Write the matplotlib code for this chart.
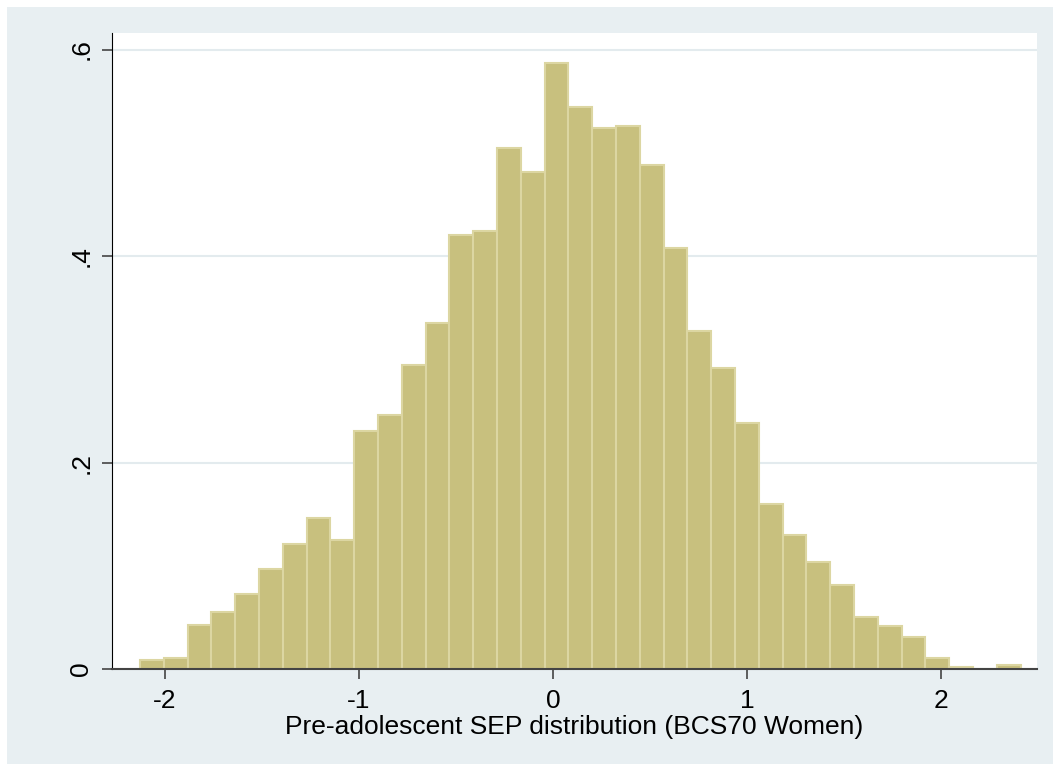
import numpy as np
import matplotlib.pyplot as plt
from matplotlib.patches import Rectangle

# histogram: 37 bins
bin_start = -2.129
bin_width = 0.1227
heights = [0.009, 0.011, 0.043, 0.055, 0.073, 0.097, 0.121, 0.146, 0.125, 0.231,
           0.246, 0.294, 0.335, 0.420, 0.424, 0.505, 0.481, 0.587, 0.544, 0.524,
           0.526, 0.488, 0.408, 0.327, 0.292, 0.238, 0.160, 0.130, 0.104, 0.081,
           0.050, 0.042, 0.031, 0.011, 0.002, 0.0, 0.004]
xticks = [-2, -1, 0, 1, 2]
yticks = [0, 0.2, 0.4, 0.6]
yticklabels = ['0', '.2', '.4', '.6']

plt.rcParams['font.family'] = ['Liberation Sans', 'DejaVu Sans']

fig = plt.figure(figsize=(10.6, 7.71), dpi=100)
fig.patch.set_facecolor('white')
# outer Stata-style panel, behind the axes
fig.add_artist(Rectangle((7/1060, 7/771), 1046/1060, 757/771, transform=fig.transFigure,
                         facecolor='#e8eff2', edgecolor='none', zorder=-10))

ax = fig.add_axes([112/1060, 102/771, 925/1060, 636/771])
ax.set_facecolor('white')

edges = bin_start + bin_width*np.arange(len(heights))
ax.bar(edges, heights, width=bin_width, align='edge', color='#c8c07e',
       edgecolor='#dcd6a2', linewidth=1.5, zorder=2)

ax.set_xlim(-2.273, 2.495)
ax.set_ylim(0, 0.616)
ax.set_xticks(xticks)
ax.set_xticklabels([str(t) for t in xticks], fontsize=19)
ax.set_yticks(yticks)
ax.set_yticklabels(yticklabels, fontsize=19, rotation=90, va='center')
ax.yaxis.grid(True, color='#e3ebee', linewidth=1.5, zorder=0)
ax.set_axisbelow(True)
ax.tick_params(axis='both', direction='out', length=7.5, width=1.2, color='#444444')
ax.tick_params(axis='x', pad=7)
ax.tick_params(axis='y', pad=6)

for s in ['top', 'right']:
    ax.spines[s].set_visible(False)
ax.spines['left'].set_color('black')
ax.spines['bottom'].set_color('#444444')
ax.spines['bottom'].set_linewidth(1.5)

ax.set_xlabel('Pre-adolescent SEP distribution (BCS70 Women)', fontsize=19, labelpad=1)

plt.savefig('out.png', dpi=100)
